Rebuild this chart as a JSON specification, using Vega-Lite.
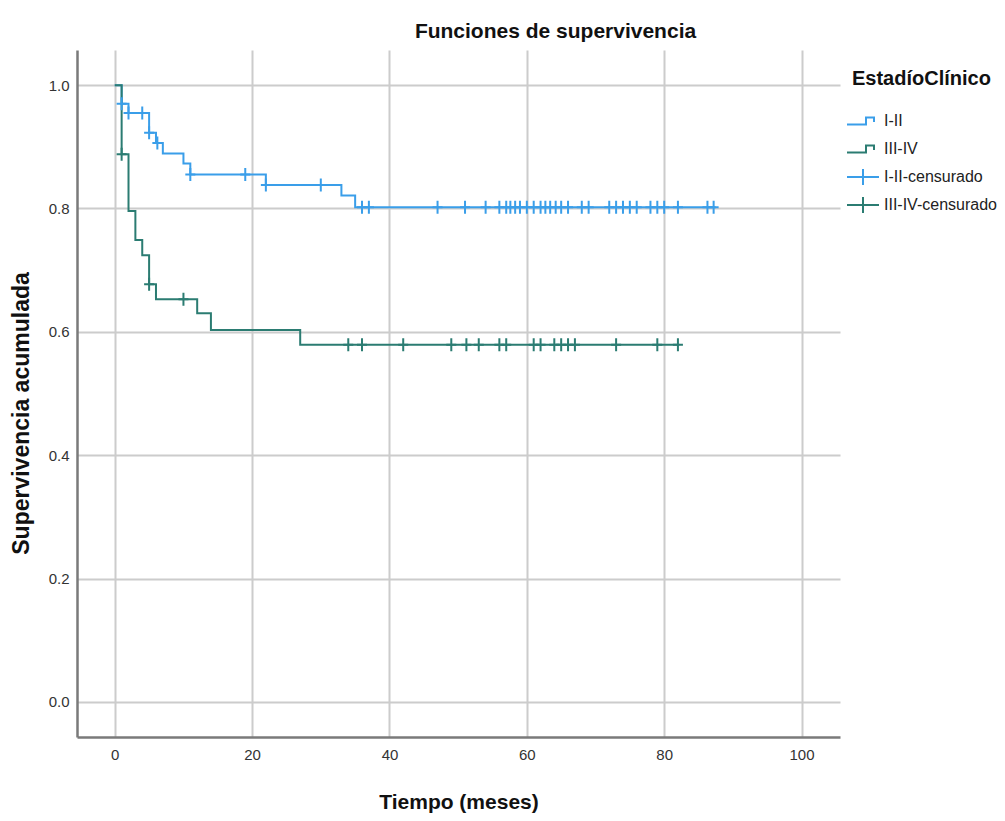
{
  "$schema": "https://vega.github.io/schema/vega-lite/v6.json",
  "width": 763,
  "height": 687,
  "autosize": {"type": "none"},
  "padding": {"left": 77, "top": 50, "right": 165, "bottom": 84},
  "background": "white",
  "title": {
    "text": "Funciones de supervivencia",
    "font": "Liberation Sans",
    "fontSize": 21,
    "fontWeight": "bold",
    "color": "#111111",
    "anchor": "middle",
    "frame": "group",
    "dx": 97,
    "offset": 8
  },
  "config": {
    "view": {"stroke": null},
    "axis": {
      "labelFont": "Liberation Sans",
      "labelFontSize": 15,
      "labelColor": "#333333",
      "titleFont": "Liberation Sans",
      "titleFontSize": 21,
      "titleFontWeight": "bold",
      "titleColor": "#111111",
      "gridColor": "#cccccc",
      "gridWidth": 2,
      "domainColor": "#7a7a7a",
      "domainWidth": 2.5,
      "ticks": false,
      "tickSize": 0
    }
  },
  "data": {
    "values": [
      {"kind": "line", "serie": "I-II", "t": 0, "s": 1.0},
      {"kind": "line", "serie": "I-II", "t": 1, "s": 0.970},
      {"kind": "line", "serie": "I-II", "t": 2, "s": 0.955},
      {"kind": "line", "serie": "I-II", "t": 5, "s": 0.923},
      {"kind": "line", "serie": "I-II", "t": 6, "s": 0.906},
      {"kind": "line", "serie": "I-II", "t": 7, "s": 0.889},
      {"kind": "line", "serie": "I-II", "t": 10, "s": 0.873},
      {"kind": "line", "serie": "I-II", "t": 11, "s": 0.855},
      {"kind": "line", "serie": "I-II", "t": 22, "s": 0.838},
      {"kind": "line", "serie": "I-II", "t": 33, "s": 0.821},
      {"kind": "line", "serie": "I-II", "t": 35, "s": 0.802},
      {"kind": "line", "serie": "I-II", "t": 87.5, "s": 0.802},
      {"kind": "line", "serie": "III-IV", "t": 0, "s": 1.0},
      {"kind": "line", "serie": "III-IV", "t": 1, "s": 0.888},
      {"kind": "line", "serie": "III-IV", "t": 2, "s": 0.796},
      {"kind": "line", "serie": "III-IV", "t": 3, "s": 0.749},
      {"kind": "line", "serie": "III-IV", "t": 4, "s": 0.724},
      {"kind": "line", "serie": "III-IV", "t": 5, "s": 0.677},
      {"kind": "line", "serie": "III-IV", "t": 6, "s": 0.653},
      {"kind": "line", "serie": "III-IV", "t": 12, "s": 0.630},
      {"kind": "line", "serie": "III-IV", "t": 14, "s": 0.603},
      {"kind": "line", "serie": "III-IV", "t": 27, "s": 0.579},
      {"kind": "line", "serie": "III-IV", "t": 82.2, "s": 0.579},
      {"kind": "cens", "serie": "I-II-censurado", "t": 1, "s": 0.970},
      {"kind": "cens", "serie": "I-II-censurado", "t": 2, "s": 0.955},
      {"kind": "cens", "serie": "I-II-censurado", "t": 4, "s": 0.955},
      {"kind": "cens", "serie": "I-II-censurado", "t": 5, "s": 0.923},
      {"kind": "cens", "serie": "I-II-censurado", "t": 6.2, "s": 0.906},
      {"kind": "cens", "serie": "I-II-censurado", "t": 11, "s": 0.855},
      {"kind": "cens", "serie": "I-II-censurado", "t": 19, "s": 0.855},
      {"kind": "cens", "serie": "I-II-censurado", "t": 22, "s": 0.838},
      {"kind": "cens", "serie": "I-II-censurado", "t": 30, "s": 0.838},
      {"kind": "cens", "serie": "I-II-censurado", "t": 36, "s": 0.802},
      {"kind": "cens", "serie": "I-II-censurado", "t": 37, "s": 0.802},
      {"kind": "cens", "serie": "I-II-censurado", "t": 47, "s": 0.802},
      {"kind": "cens", "serie": "I-II-censurado", "t": 51, "s": 0.802},
      {"kind": "cens", "serie": "I-II-censurado", "t": 54, "s": 0.802},
      {"kind": "cens", "serie": "I-II-censurado", "t": 56, "s": 0.802},
      {"kind": "cens", "serie": "I-II-censurado", "t": 57, "s": 0.802},
      {"kind": "cens", "serie": "I-II-censurado", "t": 57.6, "s": 0.802},
      {"kind": "cens", "serie": "I-II-censurado", "t": 58.3, "s": 0.802},
      {"kind": "cens", "serie": "I-II-censurado", "t": 59, "s": 0.802},
      {"kind": "cens", "serie": "I-II-censurado", "t": 60, "s": 0.802},
      {"kind": "cens", "serie": "I-II-censurado", "t": 61, "s": 0.802},
      {"kind": "cens", "serie": "I-II-censurado", "t": 62, "s": 0.802},
      {"kind": "cens", "serie": "I-II-censurado", "t": 62.7, "s": 0.802},
      {"kind": "cens", "serie": "I-II-censurado", "t": 63.4, "s": 0.802},
      {"kind": "cens", "serie": "I-II-censurado", "t": 64.2, "s": 0.802},
      {"kind": "cens", "serie": "I-II-censurado", "t": 65, "s": 0.802},
      {"kind": "cens", "serie": "I-II-censurado", "t": 66, "s": 0.802},
      {"kind": "cens", "serie": "I-II-censurado", "t": 68, "s": 0.802},
      {"kind": "cens", "serie": "I-II-censurado", "t": 69, "s": 0.802},
      {"kind": "cens", "serie": "I-II-censurado", "t": 72, "s": 0.802},
      {"kind": "cens", "serie": "I-II-censurado", "t": 73, "s": 0.802},
      {"kind": "cens", "serie": "I-II-censurado", "t": 74, "s": 0.802},
      {"kind": "cens", "serie": "I-II-censurado", "t": 75, "s": 0.802},
      {"kind": "cens", "serie": "I-II-censurado", "t": 76, "s": 0.802},
      {"kind": "cens", "serie": "I-II-censurado", "t": 78, "s": 0.802},
      {"kind": "cens", "serie": "I-II-censurado", "t": 79, "s": 0.802},
      {"kind": "cens", "serie": "I-II-censurado", "t": 80, "s": 0.802},
      {"kind": "cens", "serie": "I-II-censurado", "t": 82, "s": 0.802},
      {"kind": "cens", "serie": "I-II-censurado", "t": 86.3, "s": 0.802},
      {"kind": "cens", "serie": "I-II-censurado", "t": 87.2, "s": 0.802},
      {"kind": "cens", "serie": "III-IV-censurado", "t": 1, "s": 0.888},
      {"kind": "cens", "serie": "III-IV-censurado", "t": 5, "s": 0.677},
      {"kind": "cens", "serie": "III-IV-censurado", "t": 10, "s": 0.653},
      {"kind": "cens", "serie": "III-IV-censurado", "t": 34, "s": 0.579},
      {"kind": "cens", "serie": "III-IV-censurado", "t": 36, "s": 0.579},
      {"kind": "cens", "serie": "III-IV-censurado", "t": 42, "s": 0.579},
      {"kind": "cens", "serie": "III-IV-censurado", "t": 49, "s": 0.579},
      {"kind": "cens", "serie": "III-IV-censurado", "t": 51.2, "s": 0.579},
      {"kind": "cens", "serie": "III-IV-censurado", "t": 53, "s": 0.579},
      {"kind": "cens", "serie": "III-IV-censurado", "t": 56, "s": 0.579},
      {"kind": "cens", "serie": "III-IV-censurado", "t": 57, "s": 0.579},
      {"kind": "cens", "serie": "III-IV-censurado", "t": 61, "s": 0.579},
      {"kind": "cens", "serie": "III-IV-censurado", "t": 62, "s": 0.579},
      {"kind": "cens", "serie": "III-IV-censurado", "t": 64, "s": 0.579},
      {"kind": "cens", "serie": "III-IV-censurado", "t": 65, "s": 0.579},
      {"kind": "cens", "serie": "III-IV-censurado", "t": 66, "s": 0.579},
      {"kind": "cens", "serie": "III-IV-censurado", "t": 67, "s": 0.579},
      {"kind": "cens", "serie": "III-IV-censurado", "t": 73, "s": 0.579},
      {"kind": "cens", "serie": "III-IV-censurado", "t": 79, "s": 0.579},
      {"kind": "cens", "serie": "III-IV-censurado", "t": 82, "s": 0.579}
    ]
  },
  "encoding": {
    "x": {
      "field": "t",
      "type": "quantitative",
      "title": "Tiempo (meses)",
      "scale": {"domain": [-5.5, 105.6], "nice": false, "zero": false},
      "axis": {"values": [0, 20, 40, 60, 80, 100], "labelPadding": 10, "titlePadding": 29}
    },
    "y": {
      "field": "s",
      "type": "quantitative",
      "title": "Supervivencia acumulada",
      "scale": {"domain": [-0.057, 1.057], "nice": false, "zero": false},
      "axis": {"values": [0, 0.2, 0.4, 0.6, 0.8, 1.0], "format": ".1f", "labelPadding": 8, "titlePadding": 15, "titleFontSize": 23, "titleY": 363}
    },
    "color": {
      "field": "serie",
      "type": "nominal",
      "scale": {
        "domain": ["I-II", "III-IV", "I-II-censurado", "III-IV-censurado"],
        "range": ["#3a9ee9", "#2b7c72", "#3a9ee9", "#2b7c72"]
      },
      "legend": {
        "title": "EstadíoClínico",
        "orient": "none",
        "legendX": 775,
        "legendY": 19,
        "titleFont": "Liberation Sans",
        "titleFontSize": 20,
        "titleFontWeight": "bold",
        "titleColor": "#111111",
        "titlePadding": 21,
        "labelFont": "Liberation Sans",
        "labelFontSize": 16,
        "labelColor": "#222222",
        "labelOffset": 10,
        "symbolSize": 400,
        "rowPadding": 4,
        "gridAlign": "all",
        "symbolStrokeWidth": 2,
        "encode": {
          "symbols": {
            "update": {
              "shape": {"signal": "indexof(datum.value, 'censurado') >= 0 ? 'M-1.6,0H1.6M0,-0.8V0.8' : 'M-1.6,0.35H0.3V-0.35H1.1V0.1'"},
              "fill": {"value": "transparent"},
              "strokeWidth": {"value": 2}
            }
          }
        }
      }
    }
  },
  "layer": [
    {
      "transform": [{"filter": "datum.kind == 'line'"}],
      "mark": {"type": "line", "interpolate": "step-after", "strokeWidth": 2}
    },
    {
      "transform": [{"filter": "datum.kind == 'cens'"}],
      "mark": {"type": "point", "shape": "M-1,0H1M0,-1.3V1.3", "filled": false, "size": 100, "strokeWidth": 2, "opacity": 1}
    }
  ]
}
